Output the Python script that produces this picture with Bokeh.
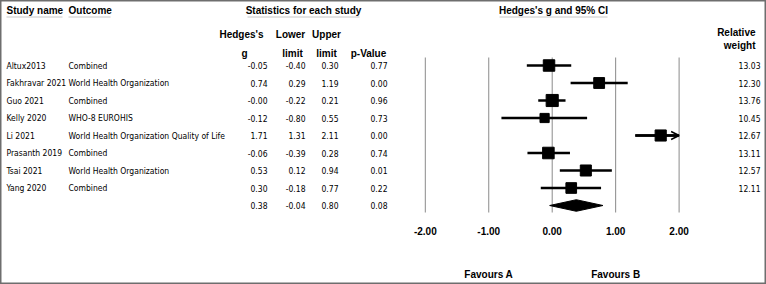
from bokeh.plotting import figure
from bokeh.models import Range1d, ColumnDataSource, Arrow, OpenHead
from bokeh.core.properties import value
from bokeh.embed import file_html
from bokeh.resources import INLINE

# ---------------- data ----------------
studies = ["Altux2013", "Fakhravar 2021", "Guo 2021", "Kelly 2020", "Li 2021",
           "Prasanth 2019", "Tsai 2021", "Yang 2020"]
outcomes = ["Combined", "World Health Organization", "Combined", "WHO-8 EUROHIS",
            "World Health Organization Quality of Life", "Combined",
            "World Health Organization", "Combined"]
hedges_g = [-0.05, 0.74, -0.00, -0.12, 1.71, -0.06, 0.53, 0.30]
lower_limit = [-0.40, 0.29, -0.22, -0.80, 1.31, -0.39, 0.12, -0.18]
upper_limit = [0.30, 1.19, 0.21, 0.55, 2.11, 0.28, 0.94, 0.77]
p_values = [0.77, 0.00, 0.96, 0.73, 0.00, 0.74, 0.01, 0.22]
rel_weight = [13.03, 12.30, 13.76, 10.45, 12.67, 13.11, 12.57, 12.11]
summary_g = 0.38
summary_lower = -0.04
summary_upper = 0.80
summary_p = 0.08
axis_ticks = [-2, -1, 0, 1, 2]
axis_tick_labels = ["-2.00", "-1.00", "0.00", "1.00", "2.00"]
favours_labels = ["Favours A", "Favours B"]
favours_pos = [-1, 1]
plot_min, plot_max = -2.0, 2.0

# ---------------- layout ----------------
W, H = 766, 284
ROW0, ROWH = 65.0, 17.5          # pixel y of first row, row pitch
def r(py):                        # pixel y -> row units
    return (py - ROW0) / ROWH

ZERO_PX, UNIT_PX = 551.7, 63.45   # forest panel mapping

NARROW = value("DejaVu Sans Condensed, Liberation Sans Narrow, sans-serif")
BOLD = value("Liberation Sans, Arial, sans-serif")

p = figure(width=W, height=H, output_backend="svg", toolbar_location=None,
           x_range=Range1d(0, W), y_range=Range1d(r(H), r(0)),
           min_border=0, min_border_left=0, min_border_right=0,
           min_border_top=0, min_border_bottom=0)
p.axis.visible = False
p.xgrid.visible = False
p.ygrid.visible = False
p.outline_line_color = "#6e6e6e"
p.outline_line_width = 2
p.background_fill_color = "white"
p.border_fill_color = "white"
p.extra_x_ranges = {"es": Range1d((0 - ZERO_PX) / UNIT_PX, (W - ZERO_PX) / UNIT_PX)}

n = len(studies)
rows = list(range(n))
sum_row = n

def fmt(v):
    return f"{v:.2f}"

src = ColumnDataSource(dict(
    row=rows,
    study=studies,
    outcome=outcomes,
    g=hedges_g,
    g_txt=[fmt(v) for v in hedges_g],
    lo_txt=[fmt(v) for v in lower_limit],
    hi_txt=[fmt(v) for v in upper_limit],
    hi_clip=[min(v, plot_max) for v in upper_limit],
    lo_clip=[max(v, plot_min) for v in lower_limit],
    p_txt=[fmt(v) for v in p_values],
    w_txt=[fmt(v) for v in rel_weight],
    size=[w * 0.88 for w in rel_weight],
))

# ---------------- headers ----------------
hdr = dict(text_font=BOLD, text_font_style="bold", text_font_size="10px",
           text_baseline="middle", text_color="black")
p.text(x=[6, 68], y=[r(10), r(10)], text=["Study name", "Outcome"], text_align="left", **hdr)
p.text(x=[303, 553], y=[r(10), r(10)],
       text=["Statistics for each study", "Hedges's g and 95% CI"], text_align="center", **hdr)
p.text(x=[241, 290, 326], y=[r(34)] * 3, text=["Hedges's", "Lower", "Upper"],
       text_align="center", **hdr)
p.text(x=[244, 292, 326, 368], y=[r(52.5)] * 4, text=["g", "limit", "limit", "p-Value"],
       text_align="center", **hdr)
p.text(x=[755, 755], y=[r(32), r(45)], text=["Relative", "weight"], text_align="right", **hdr)
# header underlines
p.segment(x0=[6, 68, 247, 499], x1=[62, 110, 359, 607], y0=[r(16.5)] * 4, y1=[r(16.5)] * 4,
          line_color="#c8c8c8", line_width=1)

# ---------------- table body ----------------
body = dict(text_font=NARROW, text_font_size="8.5px", text_baseline="middle", text_color="black")
p.text(x=6, y="row", text="study", source=src, text_align="left", **body)
p.text(x=68, y="row", text="outcome", source=src, text_align="left", **body)
p.text(x=267, y="row", text="g_txt", source=src, text_align="right", **body)
p.text(x=305, y="row", text="lo_txt", source=src, text_align="right", **body)
p.text(x=338, y="row", text="hi_txt", source=src, text_align="right", **body)
p.text(x=387, y="row", text="p_txt", source=src, text_align="right", **body)
p.text(x=760, y="row", text="w_txt", source=src, text_align="right", **body)
# summary row
p.text(x=[267, 305, 338, 387], y=[sum_row] * 4,
       text=[fmt(summary_g), fmt(summary_lower), fmt(summary_upper), fmt(summary_p)],
       text_align="right", **body)

# ---------------- forest panel ----------------
p.segment(x0=axis_ticks, x1=axis_ticks, y0=[r(57)] * 5, y1=[r(212)] * 5,
          x_range_name="es", line_color="#8a8a8a", line_width=1)
p.text(x=axis_ticks, y=[r(230)] * 5, text=axis_tick_labels, x_range_name="es",
       text_align="center", **hdr)
p.text(x=favours_pos, y=[r(274)] * 2, text=favours_labels, x_range_name="es",
       text_align="center", **hdr)

p.segment(x0="lo_clip", x1="hi_clip", y0="row", y1="row", source=src,
          x_range_name="es", line_color="black", line_width=2.5)
clipped = [i for i in rows if upper_limit[i] > plot_max]
arr_src = ColumnDataSource(dict(
    xs=[lower_limit[i] for i in clipped],
    xe=[plot_max for _ in clipped],
    y=[i for i in clipped]))
p.add_layout(Arrow(end=OpenHead(size=8, line_width=1.5, line_color="black"),
                   x_start="xs", x_end="xe", y_start="y", y_end="y", source=arr_src,
                   x_range_name="es", line_width=2.5, line_color="black"))
p.scatter(x="g", y="row", size="size", marker="square", source=src,
          x_range_name="es", fill_color="black", line_color="black")

# summary diamond
p.patch(x=[summary_lower, summary_g, summary_upper, summary_g],
        y=[sum_row, sum_row - 0.33, sum_row, sum_row + 0.33],
        x_range_name="es", fill_color="black", line_color="black")

open("out.html", "w").write(file_html(p, INLINE))
